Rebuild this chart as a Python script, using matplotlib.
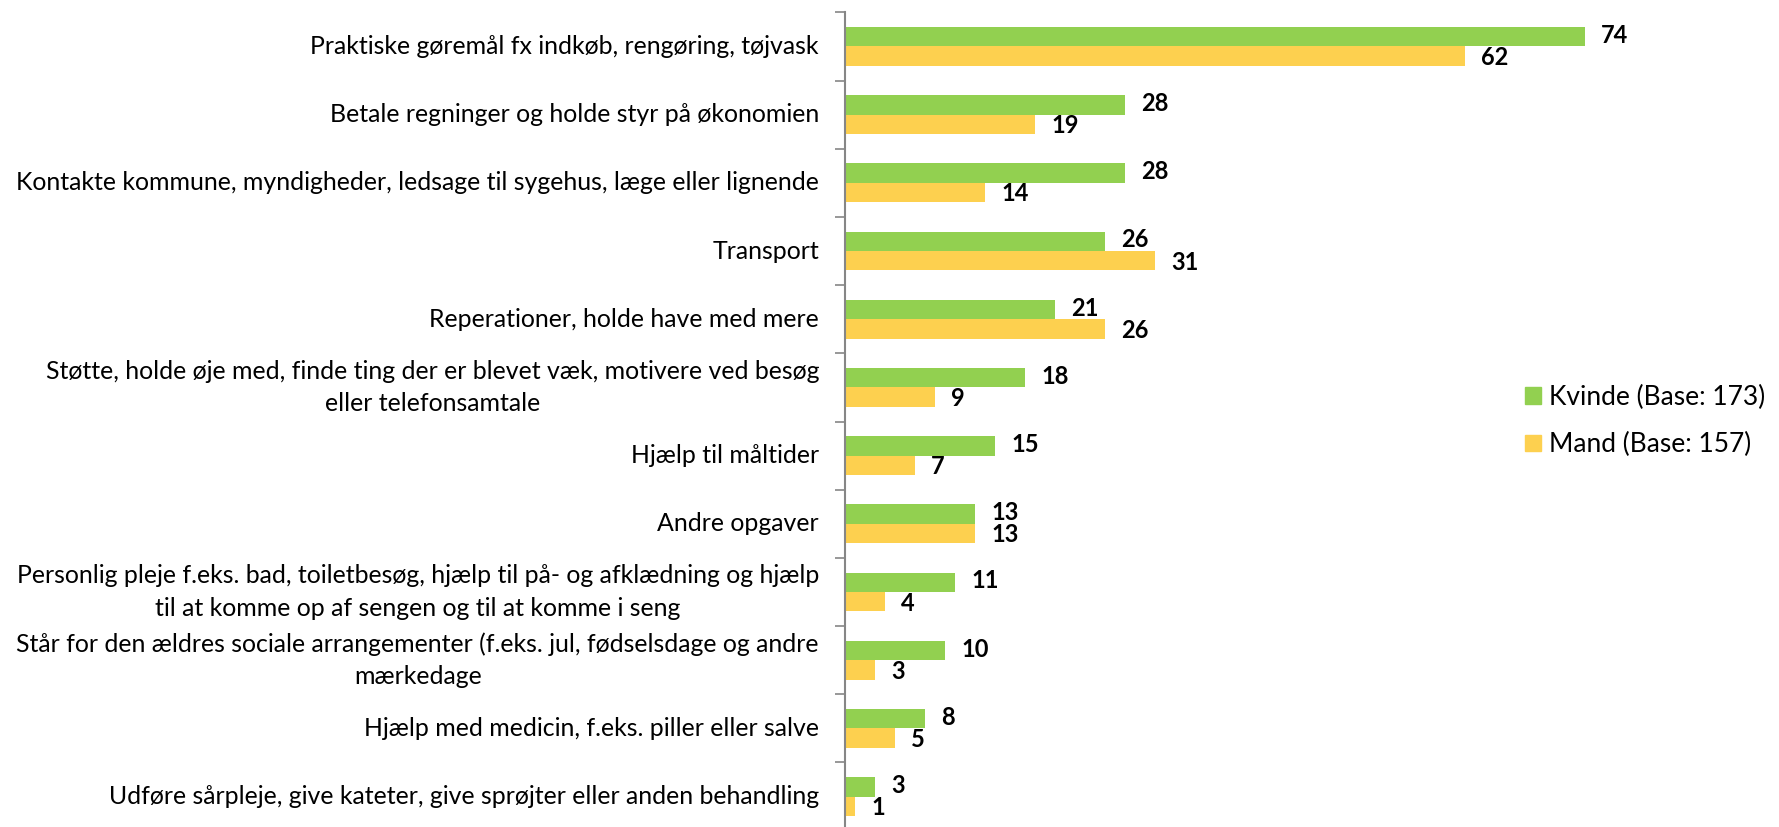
import numpy as np
import matplotlib
matplotlib.use("Agg")
import matplotlib.pyplot as plt
from matplotlib.patches import Patch

plt.rcParams["font.family"] = ["Lato", "DejaVu Sans"]

categories = [
    "Praktiske gøremål fx indkøb, rengøring, tøjvask",
    "Betale regninger og holde styr på økonomien",
    "Kontakte kommune, myndigheder, ledsage til sygehus, læge eller lignende",
    "Transport",
    "Reperationer, holde have med mere",
    "Støtte, holde øje med, finde ting der er blevet væk, motivere ved besøg\neller telefonsamtale",
    "Hjælp til måltider",
    "Andre opgaver",
    "Personlig pleje f.eks. bad, toiletbesøg, hjælp til på- og afklædning og hjælp\ntil at komme op af sengen og til at komme i seng",
    "Står for den ældres sociale arrangementer (f.eks. jul, fødselsdage og andre\nmærkedage",
    "Hjælp med medicin, f.eks. piller eller salve",
    "Udføre sårpleje, give kateter, give sprøjter eller anden behandling",
]
kvinde = [74, 28, 28, 26, 21, 18, 15, 13, 11, 10, 8, 3]
mand = [62, 19, 14, 31, 26, 9, 7, 13, 4, 3, 5, 1]
series_labels = ["Kvinde (Base: 173)", "Mand (Base: 157)"]

GREEN = "#92D050"
YELLOW = "#FDD04F"
AXIS_GRAY = "#868686"

W, H = 1779, 827
fig = plt.figure(figsize=(W / 100, H / 100), dpi=100)
ax = fig.add_axes([845 / W, 1 - 830.6 / H, 800 / W, (830.6 - 12.4) / H])

n = len(categories)
y = np.arange(n)
bh = 0.285
ax.barh(y - bh / 2, kvinde, height=bh, color=GREEN, label=series_labels[0])
ax.barh(y + bh / 2, mand, height=bh, color=YELLOW, label=series_labels[1])

# value labels, nudged a hair apart so equal values don't collide
for yi, v in zip(y, kvinde):
    ax.text(v + 1.6, yi - bh / 2 - 0.02, str(v), va="center", ha="left",
            fontsize=17, fontweight="bold", color="black")
for yi, v in zip(y, mand):
    ax.text(v + 1.6, yi + bh / 2 + 0.02, str(v), va="center", ha="left",
            fontsize=17, fontweight="bold", color="black")

ax.set_xlim(0, 80)
ax.set_ylim(n - 0.5, -0.5)

# category labels centred between boundary ticks
ax.set_yticks(np.arange(-0.5, n, 1.0))
ax.set_yticklabels([])
ax.tick_params(axis="y", length=7, width=1.2, color=AXIS_GRAY, direction="out")
for yi, lab in zip(y, categories):
    ax.text(-2.6, yi, lab, ha="right", va="center", multialignment="center",
            fontsize=17.9, color="black", linespacing=1.5)

ax.set_xticks([])
for s in ("top", "right", "bottom"):
    ax.spines[s].set_visible(False)
ax.spines["left"].set_color(AXIS_GRAY)
ax.spines["left"].set_linewidth(1.5)

handles = [Patch(color=GREEN), Patch(color=YELLOW)]
fig.legend(handles, series_labels, loc="center left",
           bbox_to_anchor=(1512 / W, 1 - 421 / H), frameon=False,
           fontsize=19, handlelength=0.6, handleheight=0.6,
           handletextpad=0.3, labelspacing=0.85, borderpad=0)

fig.savefig("out.png", dpi=100)
